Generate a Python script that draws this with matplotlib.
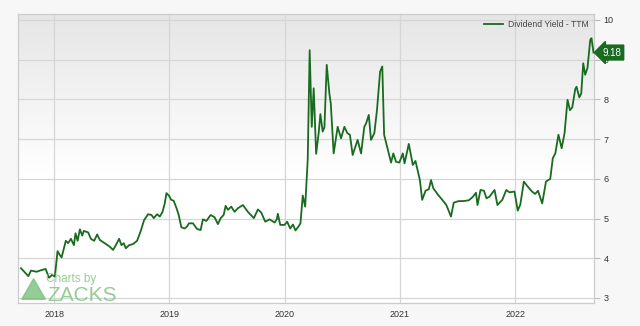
import matplotlib

matplotlib.use("Agg")
import matplotlib.dates as mdates
import matplotlib.pyplot as plt
import numpy as np
import pandas as pd
from matplotlib.patches import Polygon

plt.rcParams["font.family"] = ["Liberation Sans", "DejaVu Sans"]

# decimal year of each reading
years = [
    2017.711, 2017.775, 2017.798, 2017.847, 2017.885, 2017.925, 2017.954, 2017.980,
    2018.006, 2018.029, 2018.049, 2018.064, 2018.101, 2018.121, 2018.145, 2018.171,
    2018.185, 2018.203, 2018.223, 2018.243, 2018.257, 2018.295, 2018.318, 2018.347,
    2018.373, 2018.396, 2018.433, 2018.483, 2018.511, 2018.535, 2018.563, 2018.584,
    2018.604, 2018.621, 2018.650, 2018.685, 2018.719, 2018.749, 2018.780, 2018.815,
    2018.844, 2018.864, 2018.893, 2018.916, 2018.939, 2018.959, 2018.974, 2018.997,
    2019.017, 2019.037, 2019.061, 2019.081, 2019.104, 2019.133, 2019.153, 2019.170,
    2019.205, 2019.239, 2019.271, 2019.291, 2019.321, 2019.358, 2019.393, 2019.421,
    2019.445, 2019.471, 2019.488, 2019.508, 2019.537, 2019.566, 2019.595, 2019.638,
    2019.681, 2019.733, 2019.768, 2019.797, 2019.832, 2019.869, 2019.913, 2019.932,
    2019.941, 2019.962, 2019.999, 2020.023, 2020.049, 2020.073, 2020.095, 2020.121,
    2020.138, 2020.158, 2020.179, 2020.201, 2020.218, 2020.236, 2020.253, 2020.274,
    2020.296, 2020.311, 2020.331, 2020.346, 2020.366, 2020.389, 2020.401, 2020.426,
    2020.461, 2020.490, 2020.519, 2020.545, 2020.567, 2020.591, 2020.634, 2020.664,
    2020.692, 2020.708, 2020.731, 2020.750, 2020.779, 2020.802, 2020.829, 2020.848,
    2020.864, 2020.890, 2020.924, 2020.944, 2020.967, 2020.996, 2021.024, 2021.039,
    2021.076, 2021.111, 2021.134, 2021.172, 2021.192, 2021.221, 2021.250, 2021.269,
    2021.289, 2021.332, 2021.367, 2021.402, 2021.442, 2021.466, 2021.509, 2021.550,
    2021.597, 2021.633, 2021.659, 2021.672, 2021.698, 2021.728, 2021.750, 2021.776,
    2021.820, 2021.845, 2021.887, 2021.922, 2021.949, 2021.993, 2022.022, 2022.044,
    2022.075, 2022.110, 2022.146, 2022.173, 2022.198, 2022.234, 2022.267, 2022.304,
    2022.326, 2022.348, 2022.375, 2022.403, 2022.428, 2022.454, 2022.475, 2022.495,
    2022.521, 2022.532, 2022.556, 2022.573, 2022.590, 2022.607, 2022.627, 2022.651,
    2022.662, 2022.679,
]

dividend_yield = [
    3.75, 3.55, 3.69, 3.66, 3.70, 3.73, 3.51, 3.58,
    3.54, 4.18, 4.08, 4.02, 4.44, 4.38, 4.49, 4.33,
    4.63, 4.44, 4.73, 4.57, 4.69, 4.65, 4.49, 4.44,
    4.60, 4.46, 4.39, 4.29, 4.21, 4.33, 4.49, 4.33,
    4.38, 4.25, 4.33, 4.36, 4.44, 4.67, 4.96, 5.11,
    5.09, 5.01, 5.11, 5.05, 5.16, 5.38, 5.64, 5.57,
    5.47, 5.45, 5.27, 5.09, 4.78, 4.75, 4.80, 4.88,
    4.88, 4.74, 4.71, 4.98, 4.94, 5.09, 5.03, 4.86,
    5.01, 5.09, 5.32, 5.22, 5.30, 5.17, 5.26, 5.34,
    5.17, 5.01, 5.23, 5.15, 4.92, 4.98, 4.90, 4.98,
    5.12, 4.84, 4.84, 4.92, 4.75, 4.85, 4.70, 4.80,
    4.88, 5.58, 5.30, 6.48, 9.24, 7.31, 8.28, 6.63,
    7.15, 7.63, 7.19, 7.30, 8.87, 8.15, 7.90, 6.64,
    7.31, 7.02, 7.31, 7.15, 7.11, 6.60, 6.98, 6.64,
    7.31, 7.40, 7.61, 6.98, 7.15, 7.73, 8.70, 8.83,
    7.11, 6.81, 6.41, 6.64, 6.43, 6.41, 6.64, 6.39,
    6.88, 6.35, 6.45, 5.97, 5.47, 5.70, 5.74, 5.97,
    5.76, 5.59, 5.47, 5.34, 5.05, 5.40, 5.44, 5.44,
    5.46, 5.55, 5.65, 5.34, 5.72, 5.70, 5.51, 5.55,
    5.72, 5.34, 5.47, 5.72, 5.66, 5.68, 5.20, 5.35,
    5.93, 5.80, 5.68, 5.62, 5.70, 5.38, 5.93, 6.00,
    6.52, 6.64, 7.11, 6.77, 7.15, 7.99, 7.73, 7.80,
    8.26, 8.32, 8.05, 8.15, 8.91, 8.62, 8.79, 9.50,
    9.54, 9.18,
]

last_label = "9.18"
series_name = "Dividend Yield - TTM"
y_ticks = [3, 4, 5, 6, 7, 8, 9, 10]


def to_date(y):
    year = int(y)
    return pd.Timestamp(year, 1, 1) + pd.Timedelta(days=(y - year) * 365.25)


dates = [to_date(y) for y in years]

line_color = "#186b1f"
bg = "#f7f7f7"

fig = plt.figure(figsize=(6.4, 3.26), dpi=100, facecolor=bg)
ax = fig.add_axes([0.0288, 0.0706, 0.8994, 0.8865])
ax.set_facecolor("white")

# grey-to-white gradient in the upper part of the plot
grad = np.linspace(0, 1, 256).reshape(-1, 1)
grad = np.clip((grad - 0.45) / 0.55, 0, 1)
top_c = np.array([0.90, 0.90, 0.90])
img = np.ones((256, 1, 3)) * (1 - grad[..., None]) + top_c * grad[..., None]
img = img[::-1]
ax.imshow(img, extent=[0, 1, 0, 1], transform=ax.transAxes, aspect="auto", zorder=0)

ax.plot(dates, dividend_yield, color=line_color, lw=1.3, zorder=3, label=series_name)

ax.set_xlim(to_date(2017.689), to_date(2022.684))
ax.set_ylim(2.874, 10.151)

ax.xaxis.set_major_locator(mdates.YearLocator())
ax.xaxis.set_major_formatter(mdates.DateFormatter("%Y"))
ax.set_yticks(y_ticks)
ax.yaxis.tick_right()
ax.grid(True, color="#d6d6d6", lw=0.9, zorder=1)
ax.set_axisbelow(True)

ax.tick_params(axis="x", length=0, labelsize=6.5, colors="#333333", pad=5)
ax.tick_params(axis="y", length=4, width=0.8, color="#bbbbbb", labelsize=6.5,
               labelcolor="#333333", pad=3)
for s in ax.spines.values():
    s.set_color("#cccccc")
    s.set_linewidth(0.9)

leg = ax.legend(loc="upper right", frameon=False, fontsize=6.2, handlelength=2.2,
                handletextpad=0.5, borderaxespad=0.25, labelcolor="#444444")

# last value tag
ax.annotate(
    last_label,
    xy=(1.0, dividend_yield[-1]),
    xycoords=("axes fraction", "data"),
    xytext=(6, 0),
    textcoords="offset points",
    ha="left",
    va="center",
    fontsize=7,
    color="white",
    bbox=dict(boxstyle="larrow,pad=0.25", fc=line_color, ec=line_color),
    zorder=5,
    annotation_clip=False,
)

# watermark
wm = "#7cc07c"
fig.text(0.072, 0.135, "Charts by", fontsize=8.5, color=wm, alpha=0.8)
tri = Polygon([[0.034, 0.082], [0.071, 0.082], [0.0525, 0.145]], closed=True,
              transform=fig.transFigure, color=wm, alpha=0.8)
fig.add_artist(tri)
fig.text(0.074, 0.078, "ZACKS", fontsize=15, color=wm, alpha=0.8)

fig.savefig("out.png", dpi=100, facecolor=bg)
